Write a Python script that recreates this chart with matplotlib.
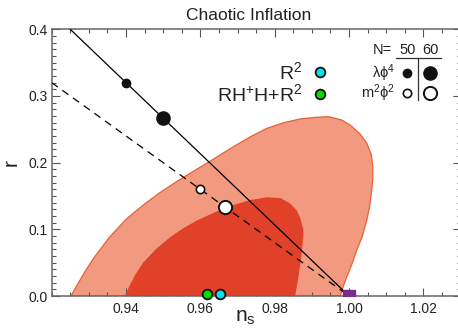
import numpy as np
import matplotlib
matplotlib.use('Agg')
import matplotlib.pyplot as plt
from matplotlib.ticker import MultipleLocator
from matplotlib.lines import Line2D

plt.rcParams['font.family'] = ['Liberation Sans', 'DejaVu Sans']
plt.rcParams['mathtext.fontset'] = 'custom'
plt.rcParams['mathtext.rm'] = 'Liberation Sans'
plt.rcParams['mathtext.it'] = 'Liberation Sans'
plt.rcParams['mathtext.default'] = 'regular'

# contour outlines (ns, r)
outer_ns = [0.9252, 0.9270, 0.9290, 0.9312, 0.9355, 0.9402, 0.9450, 0.9491, 0.9540, 0.9581,
            0.9620, 0.9653, 0.9689, 0.9735, 0.9779, 0.9825, 0.9868, 0.9910, 0.9945,
            0.9980, 1.0003, 1.0030, 1.0048, 1.0060, 1.0064, 1.0064, 1.0061, 1.0056,
            1.0048, 1.0036, 1.0021, 1.0008, 0.9994, 0.9985, 0.9976]
outer_r = [0.000, 0.018, 0.037, 0.056, 0.088, 0.116, 0.138, 0.155, 0.173, 0.187,
           0.200, 0.2115, 0.224, 0.239, 0.2515, 0.260, 0.2655, 0.268, 0.269,
           0.264, 0.2565, 0.243, 0.229, 0.212, 0.194, 0.175, 0.159, 0.136,
           0.114, 0.090, 0.069, 0.048, 0.029, 0.015, 0.000]

inner_ns = [0.9397, 0.9410, 0.9425, 0.9446, 0.9480, 0.9518, 0.9555, 0.9590, 0.9625, 0.9653,
            0.9689, 0.9735, 0.9779, 0.9815, 0.9841, 0.9860, 0.9870, 0.9877, 0.9877,
            0.9873, 0.9868, 0.9862, 0.9855]
inner_r = [0.000, 0.016, 0.032, 0.050, 0.070, 0.088, 0.102, 0.113, 0.122, 0.129,
           0.1365, 0.144, 0.148, 0.147, 0.139, 0.128, 0.115, 0.100, 0.089,
           0.066, 0.044, 0.022, 0.000]

# model lines and points
phi4_line_ns = [0.925, 1.0]
phi4_line_r = [0.4, 0.0]
phi2_line_ns = [0.92, 1.0]
phi2_line_r = [0.32, 0.0]

phi4_ns = [0.94, 0.95]      # N = 50, 60
phi4_r = [0.32, 0.2667]
phi2_ns = [0.96, 0.9667]
phi2_r = [0.16, 0.1333]

r2_ns, r2_r = 0.9653, 0.0025
rhh_ns, rhh_r = 0.9619, 0.0025
hz_ns, hz_r = 1.0, 0.0

fig = plt.figure(figsize=(4.58, 3.29), dpi=100)
ax = fig.add_axes([51.7/458, 33/329, (460.5-51.7)/458, (296-29.3)/329])

ax.fill(outer_ns, outer_r, facecolor='#F29A80', edgecolor='#E8603A', lw=0.9, zorder=1)
ax.fill(inner_ns, inner_r, facecolor='#E04128', edgecolor='none', zorder=2)

ax.plot(phi4_line_ns, phi4_line_r, color='black', lw=0.9, zorder=3)
ax.plot(phi2_line_ns, phi2_line_r, color='black', lw=0.9, ls=(0, (6, 4.5)), zorder=3)

ax.plot(phi4_ns[0], phi4_r[0], 'o', color='#111111', ms=6, zorder=4)
ax.plot(phi4_ns[1], phi4_r[1], 'o', color='#111111', ms=9.5, zorder=4)
ax.plot(phi2_ns[0], phi2_r[0], 'o', mfc='white', mec='#111111', mew=1.2, ms=6, zorder=4)
ax.plot(phi2_ns[1], phi2_r[1], 'o', mfc='white', mec='#111111', mew=1.4, ms=9.5, zorder=4)

ax.plot(rhh_ns, rhh_r, 'o', mfc='#00E000', mec='#111111', mew=1.3, ms=7, zorder=6, clip_on=False)
ax.plot(r2_ns, r2_r, 'o', mfc='#00E5F0', mec='#111111', mew=1.3, ms=7, zorder=6, clip_on=False)
ax.plot(hz_ns, hz_r, 's', color='#7B2D8B', ms=8.6, zorder=5)

ax.set_xlim(0.92, 1.03)
ax.set_ylim(0.0, 0.4)
ax.set_xticks([0.94, 0.96, 0.98, 1.00, 1.02])
ax.set_xticklabels(['0.94', '0.96', '0.98', '1.00', '1.02'])
ax.set_yticks([0.0, 0.1, 0.2, 0.3, 0.4])
ax.set_yticklabels(['0.0', '0.1', '0.2', '0.3', '0.4'])
ax.xaxis.set_minor_locator(MultipleLocator(0.005))
ax.yaxis.set_minor_locator(MultipleLocator(0.01))
ax.tick_params(which='both', direction='in', top=True, right=True, color='#555555',
               width=0.8, labelsize=10, labelcolor='#222222')
ax.tick_params(axis='x', which='both', pad=4)
ax.tick_params(axis='y', which='both', pad=3)
ax.tick_params(which='major', length=6)
ax.tick_params(which='minor', length=3.2)
for s in ax.spines.values():
    s.set_color('#666666')
    s.set_linewidth(1.1)

ax.set_xlabel('n$_s$', fontsize=15, color='#222222')
ax.set_ylabel('r', fontsize=15, color='#222222')
ax.xaxis.set_label_coords((245 - 51.7) / 408.8, -0.045)
ax.yaxis.set_label_coords(-0.075, 0.5)
fig.text(249/458, 1 - 15/329, 'Chaotic Inflation', ha='center', va='center',
         fontsize=12.5, color='#222222')

def fx(px):
    return px / 458

def fy(py):
    return 1 - py / 329

# R^2 style legend
fig.text(fx(302), fy(71.7), 'R$^2$', ha='right', va='center', fontsize=14, color='#222222')
fig.text(fx(302), fy(94.3), 'RH$^{+}$H+R$^2$', ha='right', va='center', fontsize=14, color='#222222')
fig.add_artist(Line2D([fx(320)], [fy(71.7)], marker='o', mfc='#00E5F0', mec='#111111', mew=1.3, ms=7))
fig.add_artist(Line2D([fx(320)], [fy(94.3)], marker='o', mfc='#00E000', mec='#111111', mew=1.3, ms=7))

# N = 50 / 60 legend
fig.text(fx(392), fy(50), 'N=', ha='right', va='center', fontsize=10.5, color='#222222')
fig.text(fx(407.3), fy(50), '50', ha='center', va='center', fontsize=10.5, color='#222222')
fig.text(fx(430), fy(50), '60', ha='center', va='center', fontsize=10.5, color='#222222')
fig.add_artist(Line2D([fx(396), fx(441)], [fy(58.3), fy(58.3)], color='#333333', lw=0.9))
fig.add_artist(Line2D([fx(418.3), fx(418.3)], [fy(58.3), fy(99.5)], color='#333333', lw=0.9))
fig.text(fx(395), fy(72.7), 'λϕ$^4$', ha='right', va='center', fontsize=10.5, color='#222222')
fig.text(fx(395), fy(93.3), 'm$^2$ϕ$^2$', ha='right', va='center', fontsize=10.5, color='#222222')
fig.add_artist(Line2D([fx(407.3)], [fy(72.7)], marker='o', color='#111111', ms=6))
fig.add_artist(Line2D([fx(430)], [fy(72.7)], marker='o', color='#111111', ms=9.5))
fig.add_artist(Line2D([fx(407.3)], [fy(93.3)], marker='o', mfc='white', mec='#111111', mew=1.2, ms=6))
fig.add_artist(Line2D([fx(430)], [fy(93.3)], marker='o', mfc='white', mec='#111111', mew=1.4, ms=9.5))

fig.savefig('out.png', dpi=100)
